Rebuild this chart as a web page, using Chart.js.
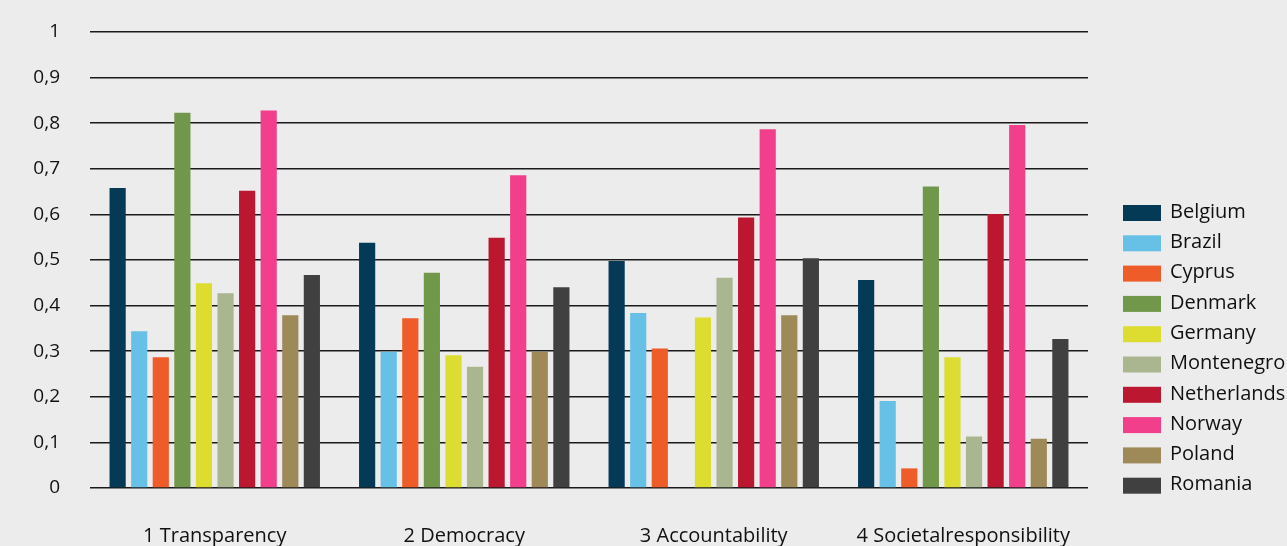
<!DOCTYPE html>
<html>
<head>
<meta charset="utf-8">
<script src="https://cdn.jsdelivr.net/npm/chart.js@4.4.0/dist/chart.umd.min.js"></script>
<style>
  html, body { margin: 0; padding: 0; background: #ececec; }
  #wrap { width: 1287px; height: 546px; }
</style>
</head>
<body>
<div id="wrap"><canvas id="myChart"></canvas></div>
<script>
var categories = ['1 Transparency', '2 Democracy', '3 Accountability', '4 Societalresponsibility'];
var countries = ['Belgium', 'Brazil', 'Cyprus', 'Denmark', 'Germany', 'Montenegro', 'Netherlands', 'Norway', 'Poland', 'Romania'];
var colors = ['#053a57', '#67c1e6', '#ee5c29', '#71974a', '#dddc31', '#aab68f', '#bc1730', '#f23f8c', '#9e8959', '#404040'];

var belgium     = [0.658, 0.538, 0.498, 0.456];
var brazil      = [0.344, 0.299, 0.384, 0.191];
var cyprus      = [0.287, 0.372, 0.306, 0.043];
var denmark     = [0.823, 0.472, null,  0.661];
var germany     = [0.449, 0.291, 0.374, 0.287];
var montenegro  = [0.427, 0.266, 0.461, 0.113];
var netherlands = [0.652, 0.549, 0.593, 0.601];
var norway      = [0.828, 0.686, 0.787, 0.796];
var poland      = [0.379, 0.299, 0.379, 0.108];
var romania     = [0.467, 0.440, 0.504, 0.327];

var series = [belgium, brazil, cyprus, denmark, germany, montenegro, netherlands, norway, poland, romania];
var yTicks = [0, 0.1, 0.2, 0.3, 0.4, 0.5, 0.6, 0.7, 0.8, 0.9, 1];

var FONT = '"Open Sans", "Noto Sans", sans-serif';

// legend drawn by hand on the right side
var sideLegend = {
    id: 'sideLegend',
    afterDraw: function(chart) {
        var c = chart.ctx;
        c.save();
        c.font = '20px ' + FONT;
        c.textBaseline = 'middle';
        chart.data.datasets.forEach(function(ds, i) {
            var y = 213 + i * 30.3;
            c.fillStyle = ds.backgroundColor;
            c.fillRect(1123, y - 8, 38, 16);
            c.fillStyle = '#111';
            c.fillText(ds.label, 1170, y - 1);
        });
        c.restore();
    }
};

var ctx = document.getElementById('myChart').getContext('2d');
var myChart = new Chart(ctx, {
    type: 'bar',
    data: {
        labels: categories,
        datasets: series.map(function(d, i) {
            return {
                label: countries[i],
                data: d,
                backgroundColor: colors[i],
                categoryPercentage: 0.865,
                barPercentage: 0.75
            };
        })
    },
    options: {
        responsive: true,
        maintainAspectRatio: false,
        animation: false,
        layout: { padding: { top: 32, right: 199, left: 0, bottom: 0 } },
        plugins: {
            legend: { display: false },
            tooltip: { enabled: false }
        },
        scales: {
            x: {
                grid: { display: false },
                border: { display: false },
                ticks: { color: '#111', font: { family: FONT, size: 20 }, padding: 28, maxRotation: 0 },
                afterFit: function(scale) { scale.height = 58; }
            },
            y: {
                min: 0,
                max: 1,
                afterBuildTicks: function(scale) {
                    scale.ticks = yTicks.map(function(v) { return { value: v }; });
                },
                grid: { color: '#1a1a1a', lineWidth: 1.5, drawTicks: false },
                border: { display: false },
                ticks: {
                    color: '#111',
                    font: { family: FONT, size: 19 },
                    padding: 30,
                    callback: function(v) { return String(Math.round(v * 10) / 10).replace('.', ','); }
                },
                afterFit: function(scale) {
                    scale.width = 90;
                    scale.paddingTop = 0;
                    scale.paddingBottom = 0;
                }
            }
        }
    },
    plugins: [sideLegend]
});
</script>
</body>
</html>
